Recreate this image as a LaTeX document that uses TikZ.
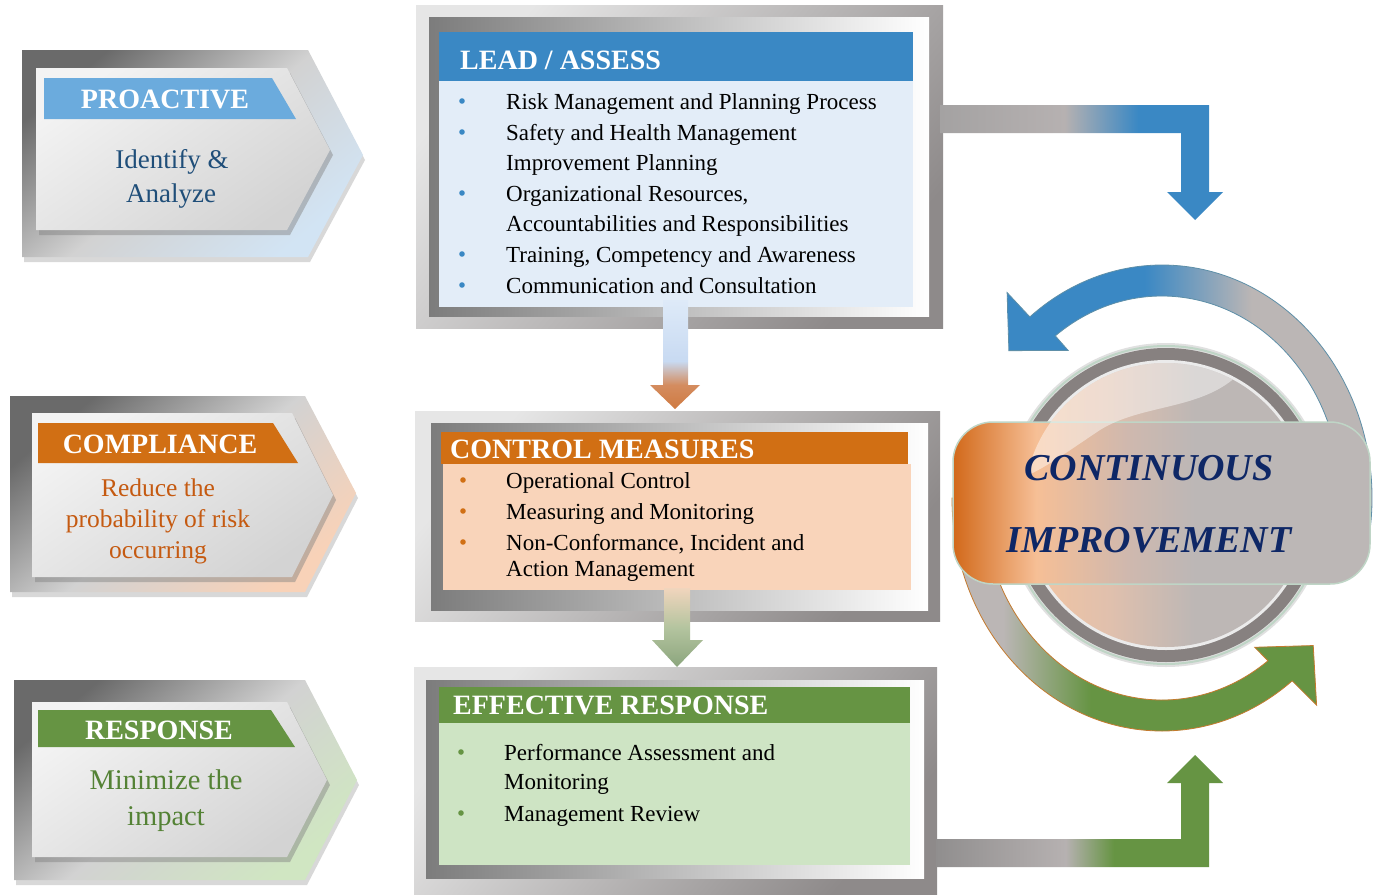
\documentclass[tikz,border=0pt]{standalone}
\usepackage{fontspec}
\setmainfont{Liberation Serif}
\usetikzlibrary{calc,shadows}

\definecolor{leadBlue}{HTML}{3A88C4}
\definecolor{leadBody}{HTML}{E3EDF8}
\definecolor{proBlue}{HTML}{6BABDD}
\definecolor{ctrlOr}{HTML}{D16F14}
\definecolor{ctrlBody}{HTML}{F9D4BA}
\definecolor{effGreen}{HTML}{669443}
\definecolor{effBody}{HTML}{CEE4C4}
\definecolor{txtBlue}{HTML}{1F4E79}
\definecolor{txtOr}{HTML}{C55A11}
\definecolor{txtGreen}{HTML}{548235}
\definecolor{navy}{HTML}{0E2766}
\definecolor{ringGray}{HTML}{878180}
\definecolor{arcGray}{HTML}{BBB6B5}
\definecolor{frameLight}{HTML}{E6E6E6}
\definecolor{frameDark}{HTML}{8E8A8A}
\definecolor{frameGray}{HTML}{7C7C7C}
\definecolor{pentDark}{HTML}{6A6A6A}
\definecolor{pentMid}{HTML}{D2D2D2}
\definecolor{proTint}{HTML}{D2E4F4}
\definecolor{comTint}{HTML}{F8D2B8}
\definecolor{resTint}{HTML}{D0E6C2}
\definecolor{inA}{HTML}{F3F3F3}
\definecolor{inB}{HTML}{D3D3D3}
\definecolor{taA}{HTML}{A4A2A2}
\definecolor{taB}{HTML}{B6B1B1}
\definecolor{baA}{HTML}{908E8E}
\definecolor{bnA}{HTML}{D2691A}
\definecolor{bnB}{HTML}{F6BF96}
\definecolor{bnC}{HTML}{CFB8AE}
\definecolor{bnD}{HTML}{BCB7B6}
\definecolor{dkA}{HTML}{F4C5A1}
\definecolor{dkB}{HTML}{E0C0AD}
\definecolor{dkC}{HTML}{BDB7B5}
\definecolor{d1A}{HTML}{CF7A41}
\definecolor{d1B}{HTML}{D48C5F}
\definecolor{d1C}{HTML}{C8DAF2}
\definecolor{d1D}{HTML}{DEEAF8}
\definecolor{d2A}{HTML}{F1D5BD}
\definecolor{d2B}{HTML}{B4C49F}
\definecolor{d2C}{HTML}{8BA57D}
\definecolor{blueArcLine}{HTML}{5E8FA8}
\definecolor{greenArcLine}{HTML}{C47A2E}
\definecolor{bannerLine}{HTML}{BFD5C6}

\pgfdeclarehorizontalshading{topArrowSh}{100bp}{color(0bp)=(taA); color(25bp)=(taA); color(47bp)=(taB); color(60bp)=(leadBlue); color(100bp)=(leadBlue)}
\pgfdeclarehorizontalshading{botArrowSh}{100bp}{color(0bp)=(baA); color(25bp)=(baA); color(47.6bp)=(taB); color(56bp)=(effGreen); color(100bp)=(effGreen)}
\pgfdeclarehorizontalshading{blueArcSh}{100bp}{color(0bp)=(leadBlue); color(43bp)=(leadBlue); color(57bp)=(arcGray); color(100bp)=(arcGray)}
\pgfdeclarehorizontalshading{greenArcSh}{100bp}{color(0bp)=(arcGray); color(32bp)=(arcGray); color(44bp)=(effGreen); color(100bp)=(effGreen)}
\pgfdeclarehorizontalshading{bannerSh}{100bp}{color(0bp)=(bnA); color(25bp)=(bnA); color(35bp)=(bnB); color(46bp)=(bnC); color(54bp)=(bnD); color(100bp)=(bnD)}
\pgfdeclarehorizontalshading{diskSh}{100bp}{color(0bp)=(dkA); color(25bp)=(dkA); color(40bp)=(dkB); color(55bp)=(dkC); color(100bp)=(dkC)}
\pgfdeclareverticalshading{downOneSh}{100bp}{color(0bp)=(d1A); color(25bp)=(d1A); color(36bp)=(d1B); color(47bp)=(d1C); color(75bp)=(d1D); color(100bp)=(d1D)}
\pgfdeclareverticalshading{downTwoSh}{100bp}{color(0bp)=(d2C); color(25bp)=(d2C); color(50bp)=(d2B); color(75bp)=(d2A); color(100bp)=(d2A)}

\tikzset{
  hdrtxt/.style={font=\fontsize{28}{34}\selectfont\bfseries, text=white, inner sep=0pt, anchor=base west},
  bantxt/.style={font=\fontsize{28}{34}\selectfont\bfseries, text=white, inner sep=0pt, anchor=base},
  itemtxt/.style={font=\fontsize{23}{28}\selectfont, text=black, inner sep=0pt, anchor=base west},
  subtxt/.style={inner sep=0pt, anchor=base},
  citxt/.style={font=\fontsize{38}{44}\selectfont\bfseries\itshape, text=navy, inner sep=0pt, anchor=base},
  boxouter/.style={inner sep=0pt, outer sep=0pt, anchor=north west, top color=frameLight, bottom color=frameDark, shading angle=50},
  boxframe/.style={inner sep=0pt, outer sep=0pt, anchor=north west, left color=frameGray, right color=white},
  boxfill/.style={inner sep=0pt, outer sep=0pt, anchor=north west},
  outershadow/.style={drop shadow={shadow xshift=2pt, shadow yshift=-5pt, opacity=0.3}},
  innershadow/.style={drop shadow={shadow xshift=3pt, shadow yshift=-5pt, opacity=0.45}},
}

\begin{document}
\begin{tikzpicture}[x=1pt,y=-1pt]
\useasboundingbox (0,0) rectangle (1373,894);
\fill[white] (0,0) rectangle (1373,894);

% ---------------- left pentagons ----------------
% Proactive
\path[outershadow, top color=pentDark, bottom color=proTint, middle color=pentMid, shading angle=40]
  (22,50) -- (308,50) -- (363,155) -- (308,257) -- (22,257) -- cycle;
\path[innershadow, top color=inA, bottom color=inB, shading angle=35]
  (36,68) -- (287,68) -- (330,150) -- (287,230) -- (36,230) -- cycle;
\fill[proBlue] (44,78) -- (272,78) -- (296,119) -- (44,119) -- cycle;
\node[bantxt] (pro) at (165,108) {PROACTIVE};
\node[subtxt, font=\fontsize{27}{32}\selectfont, text=txtBlue] (pro1) at (172,168) {Identify \&};
\node[subtxt, font=\fontsize{27}{32}\selectfont, text=txtBlue] (pro2) at (171,202) {Analyze};

% Compliance
\path[outershadow, top color=pentDark, bottom color=comTint, middle color=pentMid, shading angle=40]
  (10,396) -- (305,396) -- (356,493) -- (305,592) -- (10,592) -- cycle;
\path[innershadow, top color=inA, bottom color=inB, shading angle=35]
  (32,413) -- (292,413) -- (333,495) -- (292,577) -- (32,577) -- cycle;
\fill[ctrlOr] (38,423) -- (273,423) -- (298,463) -- (38,463) -- cycle;
\node[bantxt] (com) at (160,453) {COMPLIANCE};
\node[subtxt, font=\fontsize{25.5}{30}\selectfont, text=txtOr] (com1) at (158,496) {Reduce the};
\node[subtxt, font=\fontsize{25.5}{30}\selectfont, text=txtOr] (com2) at (158,527) {probability of risk};
\node[subtxt, font=\fontsize{25.5}{30}\selectfont, text=txtOr] (com3) at (158,558) {occurring};

% Response
\path[outershadow, top color=pentDark, bottom color=resTint, middle color=pentMid, shading angle=40]
  (14,680) -- (305,680) -- (357,780) -- (305,880) -- (14,880) -- cycle;
\path[innershadow, top color=inA, bottom color=inB, shading angle=35]
  (32,702) -- (287,702) -- (327,780) -- (287,857) -- (32,857) -- cycle;
\fill[effGreen] (38,710) -- (271,710) -- (295,747) -- (38,747) -- cycle;
\node[bantxt] (res) at (159,739) {RESPONSE};
\node[subtxt, font=\fontsize{28.5}{34}\selectfont, text=txtGreen] (res1) at (166,789) {Minimize the};
\node[subtxt, font=\fontsize{28.5}{34}\selectfont, text=txtGreen] (res2) at (166,825) {impact};

% ---------------- circular arrows ----------------
\coordinate (cc) at (1162,498);
\coordinate (ccc) at (1166,505);

\shade[shading=blueArcSh, draw=blueArcLine, line width=0.8pt]
  ($(cc)+(10:210 and 233)$) arc[start angle=10, end angle=-129, x radius=210, y radius=233]
  -- ($(cc)+(-130.2:240 and 269)$)
  -- ($(cc)+(-139.3:202 and 226)$)
  -- ($(cc)+(-125.4:162 and 181)$)
  -- ($(cc)+(-126.6:179 and 202)$)
  arc[start angle=-126.6, end angle=10, x radius=179, y radius=202] -- cycle;

\shade[shading=greenArcSh, draw=greenArcLine, line width=0.8pt]
  ($(cc)+(180:210 and 233)$) arc[start angle=180, end angle=51.7, x radius=210, y radius=233]
  -- ($(cc)+(50.1:241 and 270)$)
  -- ($(cc)+(41.2:201 and 224)$)
  -- ($(cc)+(55.1:162 and 182)$)
  -- ($(cc)+(53.7:179 and 202)$)
  arc[start angle=53.7, end angle=180, x radius=179, y radius=202] -- cycle;

% ---------------- circle ----------------
\fill[white!88!black] (ccc) circle (162);
\draw[line width=2pt, color=bannerLine] (ccc) circle (159);
\fill[ringGray] (ccc) circle (157);
\fill[white!92!black] (ccc) circle (145);
\shade[shading=diskSh] (ccc) circle (142);

% ---------------- banner ----------------
\shade[shading=bannerSh, draw=bannerLine, line width=1.5pt, rounded corners=40pt]
  (953,422) rectangle (1370,584);

% gloss highlight
\begin{scope}
  \clip (ccc) circle (142);
  \fill[white, opacity=0.45]
    ($(ccc)+(192:142)$) arc[start angle=192, end angle=298, radius=142]
    .. controls (1195,410) and (1140,405) .. (1100,430)
    .. controls (1070,450) and (1045,468) .. ($(ccc)+(192:142)$) -- cycle;
\end{scope}

\node[citxt] (ci1) at (1149,480) {CONTINUOUS};
\node[citxt] (ci2) at (1149,552) {IMPROVEMENT};

% ---------------- boxes ----------------
% LEAD / ASSESS
\node[boxouter, minimum width=527, minimum height=323] (lead) at (416,5) {};
\node[boxframe, minimum width=500, minimum height=299] (leadF) at (429,17) {};
\node[boxfill, fill=leadBlue, minimum width=474, minimum height=49] (leadH) at (439,32) {};
\node[boxfill, fill=leadBody, minimum width=474, minimum height=226] (leadB) at (439,81) {};
\node[hdrtxt] (leadT) at (460,69) {LEAD / ASSESS};
\foreach \yy in {101,132,193,254,285} \fill[leadBlue] (462,\yy) circle (2.8);
\node[itemtxt] (l1) at (506,109) {Risk Management and Planning Process};
\node[itemtxt] (l2) at (506,140) {Safety and Health Management};
\node[itemtxt] (l3) at (506,170.5) {Improvement Planning};
\node[itemtxt] (l4) at (506,201) {Organizational Resources,};
\node[itemtxt] (l5) at (506,231.5) {Accountabilities and Responsibilities};
\node[itemtxt] (l6) at (506,262) {Training, Competency and Awareness};
\node[itemtxt] (l7) at (506,293) {Communication and Consultation};

% CONTROL MEASURES
\node[boxouter, minimum width=525, minimum height=210] (ctrl) at (415,411) {};
\node[boxframe, minimum width=497, minimum height=187] (ctrlF) at (431,423) {};
\node[boxfill, fill=ctrlBody, minimum width=468, minimum height=126] (ctrlB) at (443,464) {};
\node[boxfill, fill=ctrlOr, minimum width=467, minimum height=32] (ctrlH) at (441,432) {};
\node[hdrtxt] (ctrlT) at (450,458) {CONTROL MEASURES};
\foreach \yy in {480,511,542} \fill[ctrlOr] (463,\yy) circle (2.8);
\node[itemtxt] (c1) at (506,488) {Operational Control};
\node[itemtxt] (c2) at (506,519) {Measuring and Monitoring};
\node[itemtxt] (c3) at (506,550) {Non-Conformance, Incident and};
\node[itemtxt] (c4) at (506,576) {Action Management};

% EFFECTIVE RESPONSE
\node[boxouter, minimum width=523, minimum height=227] (eff) at (414,667) {};
\node[boxframe, minimum width=498, minimum height=198] (effF) at (426,680) {};
\node[boxfill, fill=effGreen, minimum width=471, minimum height=36] (effH) at (439,687) {};
\node[boxfill, fill=effBody, minimum width=471, minimum height=142] (effB) at (439,723) {};
\node[hdrtxt] (effT) at (453,714) {EFFECTIVE RESPONSE};
\foreach \yy in {752,813} \fill[effGreen] (461,\yy) circle (2.8);
\node[itemtxt] (e1) at (504,760) {Performance Assessment and};
\node[itemtxt] (e2) at (504,789) {Monitoring};
\node[itemtxt] (e3) at (504,821) {Management Review};

% ---------------- block arrows ----------------
\shade[shading=downOneSh]
  (663,300) -- (688,300) -- (688,385) -- (700,385) -- (675,409) -- (650,385) -- (663,385) -- cycle;
\shade[shading=downTwoSh]
  (664,588) -- (690,588) -- (690,640) -- (703,640) -- (677,667) -- (652,640) -- (664,640) -- cycle;
\shade[shading=topArrowSh]
  (940,105) -- (1209,105) -- (1209,192) -- (1223,192) -- (1195,220) -- (1167,192)
  -- (1181,192) -- (1181,133) -- (940,133) -- cycle;
\shade[shading=botArrowSh]
  (936,839) -- (1181,839) -- (1181,783) -- (1167,783) -- (1195,755) -- (1223,783)
  -- (1209,783) -- (1209,867) -- (936,867) -- cycle;

\end{tikzpicture}
\end{document}
